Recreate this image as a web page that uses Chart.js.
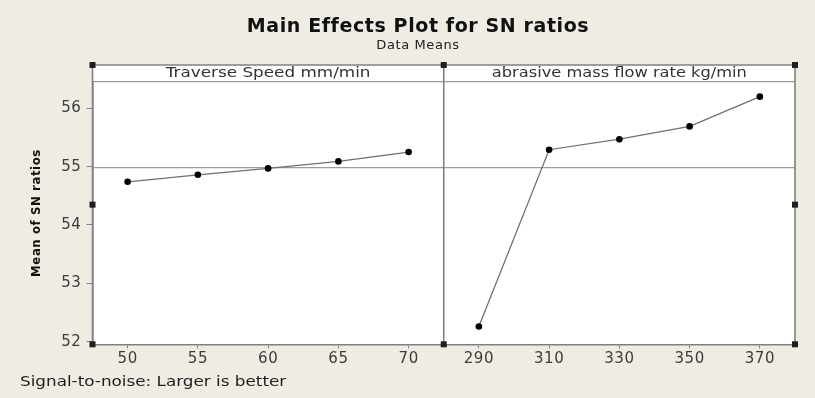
<!DOCTYPE html>
<html><head><meta charset="utf-8">
<script src="https://cdn.jsdelivr.net/npm/chart.js@4.4.0/dist/chart.umd.min.js"></script>
<style>
html,body{margin:0;padding:0;background:#efece4;}
#wrap{width:815px;height:398px;position:relative;}
canvas{display:block;}
</style>
</head><body>
<div id="wrap"><canvas id="c" width="815" height="398"></canvas></div>
<script>
const mainTitle = 'Main Effects Plot for SN ratios';
const subTitle = 'Data Means';
const yTitle = 'Mean of SN ratios';
const footnote = 'Signal-to-noise: Larger is better';
const factorNames = ['Traverse Speed mm/min', 'abrasive mass flow rate kg/min'];
const speedLevels = [50, 55, 60, 65, 70];
const speedSN = [54.74, 54.86, 54.97, 55.09, 55.25];
const flowLevels = [290, 310, 330, 350, 370];
const flowSN = [52.26, 55.29, 55.47, 55.69, 56.20];
const yTicks = [52, 53, 54, 55, 56];

const FONT = "'DejaVu Sans', Verdana, sans-serif";
const LS = '0.6px';
const STRIP = 16.7;
const FRAME = '#808080';
const grandMean = speedSN.reduce((a, b) => a + b, 0) / speedSN.length;

function stretchedText(ctx, text, x, y, sx, align) {
  ctx.save();
  ctx.translate(x, y);
  ctx.scale(sx, 1);
  ctx.textAlign = align;
  ctx.fillText(text, 0, 0);
  ctx.restore();
}

const panelPlugin = {
  id: 'panels',
  beforeInit(chart) { chart.ctx.letterSpacing = LS; },
  beforeLayout(chart) { chart.ctx.letterSpacing = LS; },
  beforeDraw(chart) {
    const ctx = chart.ctx, a = chart.chartArea;
    ctx.letterSpacing = LS;
    ctx.save();
    ctx.fillStyle = '#ffffff';
    ctx.fillRect(a.left, a.top - STRIP, a.right - a.left, a.bottom - a.top + STRIP);
    ctx.restore();
  },
  beforeDatasetsDraw(chart) {
    const ctx = chart.ctx, a = chart.chartArea;
    const y = chart.scales.y.getPixelForValue(grandMean);
    ctx.save();
    ctx.strokeStyle = '#9a9a9a';
    ctx.lineWidth = 1.2;
    ctx.beginPath();
    ctx.moveTo(a.left, y); ctx.lineTo(a.right, y);
    ctx.stroke();
    ctx.restore();
  },
  afterDraw(chart) {
    const ctx = chart.ctx, a = chart.chartArea;
    const s1 = chart.scales.x1, s2 = chart.scales.x2;
    const st = a.top - STRIP;
    ctx.save();
    ctx.strokeStyle = '#9a9a9a';
    ctx.lineWidth = 1.2;
    ctx.beginPath(); ctx.moveTo(a.left, a.top); ctx.lineTo(a.right, a.top); ctx.stroke();
    ctx.strokeStyle = FRAME;
    ctx.lineWidth = 1.6;
    ctx.beginPath();
    ctx.moveTo(a.left, st); ctx.lineTo(a.right, st);
    ctx.moveTo(a.left, st); ctx.lineTo(a.left, a.bottom);
    ctx.moveTo(s1.right, st); ctx.lineTo(s1.right, a.bottom);
    ctx.moveTo(a.right, st); ctx.lineTo(a.right, a.bottom);
    ctx.stroke();
    // strip labels
    ctx.letterSpacing = '0px';
    ctx.fillStyle = '#333333';
    ctx.font = '14px ' + FONT;
    ctx.textBaseline = 'middle';
    stretchedText(ctx, factorNames[0], (s1.left + s1.right) / 2, st + STRIP / 2 + 0.5, 1.2, 'center');
    stretchedText(ctx, factorNames[1], (s2.left + s2.right) / 2, st + STRIP / 2 + 0.5, 1.16, 'center');
    // footnote
    ctx.font = '14px ' + FONT;
    ctx.fillStyle = '#1e1e1e';
    stretchedText(ctx, footnote, 20, 382, 1.2, 'left');
    // selection handles
    ctx.fillStyle = '#1e1e1e';
    const hs = 6;
    const my = (st + a.bottom) / 2;
    [[a.left, st], [s1.right, st], [a.right, st],
     [a.left, a.bottom], [s1.right, a.bottom], [a.right, a.bottom],
     [a.left, my], [a.right, my]].forEach(([x, y]) => {
      ctx.fillRect(x - hs / 2, y - hs / 2, hs, hs);
    });
    ctx.restore();
    ctx.letterSpacing = LS;
  }
};

const tickFont = { family: FONT, size: 15 };

new Chart(document.getElementById('c'), {
  type: 'line',
  data: {
    datasets: [
      {
        label: factorNames[0],
        xAxisID: 'x1', yAxisID: 'y',
        data: speedLevels.map((x, i) => ({ x, y: speedSN[i] })),
        borderColor: '#707070', borderWidth: 1.3,
        pointRadius: 3.3, pointBackgroundColor: '#000', pointBorderWidth: 0,
        tension: 0
      },
      {
        label: factorNames[1],
        xAxisID: 'x2', yAxisID: 'y',
        data: flowLevels.map((x, i) => ({ x, y: flowSN[i] })),
        borderColor: '#707070', borderWidth: 1.3,
        pointRadius: 3.3, pointBackgroundColor: '#000', pointBorderWidth: 0,
        tension: 0
      }
    ]
  },
  options: {
    responsive: false,
    animation: false,
    devicePixelRatio: 1,
    layout: { padding: { left: 41, right: 20, top: 0, bottom: 0 } },
    plugins: {
      legend: { display: false },
      tooltip: { enabled: false },
      title: {
        display: true, text: mainTitle, color: '#111111',
        font: { family: FONT, size: 19, weight: 'bold' },
        padding: { top: 15.5, bottom: 0 }
      },
      subtitle: {
        display: true, text: subTitle, color: '#222222',
        font: { family: FONT, size: 13 },
        padding: { top: 0, bottom: 27.8 }
      }
    },
    scales: {
      x1: {
        type: 'linear', position: 'bottom', stack: 'panels', stackWeight: 1,
        min: 47.5, max: 72.5,
        afterBuildTicks: s => { s.ticks = speedLevels.map(v => ({ value: v })); },
        afterFit: s => { s.height = 53.7; },
        grid: { drawOnChartArea: false, drawTicks: true, tickLength: 4, color: FRAME },
        border: { color: FRAME, width: 1.6 },
        ticks: { font: tickFont, color: '#3c3c3c', padding: 2, maxRotation: 0, autoSkip: false }
      },
      x2: {
        type: 'linear', position: 'bottom', stack: 'panels', stackWeight: 1,
        min: 280, max: 380,
        afterBuildTicks: s => { s.ticks = flowLevels.map(v => ({ value: v })); },
        afterFit: s => { s.height = 53.7; },
        grid: { drawOnChartArea: false, drawTicks: true, tickLength: 4, color: FRAME },
        border: { color: FRAME, width: 1.6 },
        ticks: { font: tickFont, color: '#3c3c3c', padding: 2, maxRotation: 0, autoSkip: false }
      },
      y: {
        type: 'linear', position: 'left',
        min: 51.955, max: 56.456,
        afterBuildTicks: s => { s.ticks = yTicks.map(v => ({ value: v })); },
        afterFit: s => { s.width = 51.5; },
        grid: { drawOnChartArea: false, drawTicks: true, tickLength: 6, color: FRAME },
        border: { color: FRAME, width: 1.6 },
        ticks: { font: tickFont, color: '#3c3c3c', padding: 5 },
        title: {
          display: true, text: yTitle, color: '#111111',
          font: { family: "'DejaVu Sans Condensed', 'DejaVu Sans', sans-serif", size: 13, weight: 'bold' },
          padding: { top: -11.8, bottom: 0 }
        }
      }
    }
  },
  plugins: [panelPlugin]
});
</script>
</body></html>
